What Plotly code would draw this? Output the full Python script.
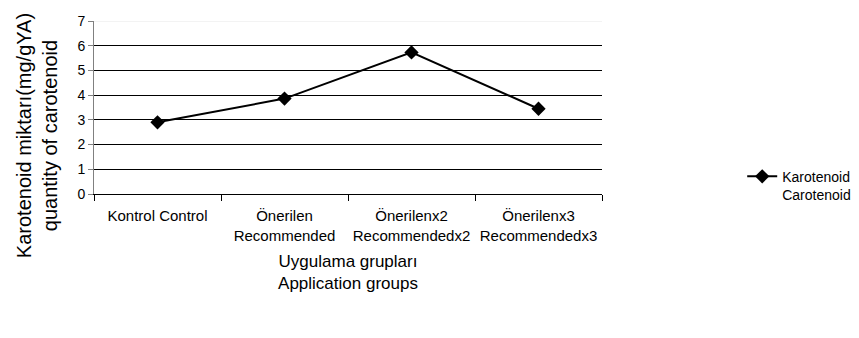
import plotly.graph_objects as go

categories = ["Kontrol Control", "Önerilen<br>Recommended", "Önerilenx2<br>Recommendedx2", "Önerilenx3<br>Recommendedx3"]
values = [2.9, 3.86, 5.73, 3.45]
series_name = "Karotenoid<br>Carotenoid"
y_ticks = [0, 1, 2, 3, 4, 5, 6, 7]

font_family = "Liberation Sans, Arial, sans-serif"

fig = go.Figure()
fig.add_trace(go.Scatter(
    x=categories, y=values, mode="lines+markers", name=series_name,
    line=dict(color="black", width=2),
    marker=dict(symbol="diamond", size=11, color="black"),
))

fig.update_layout(
    width=851, height=330,
    margin=dict(l=86, r=257, t=13, b=144, autoexpand=False),
    paper_bgcolor="white", plot_bgcolor="white",
    font=dict(family=font_family, color="black", size=14),
    showlegend=True,
    legend=dict(x=1.276, xanchor="left", y=0.048, yanchor="middle",
                font=dict(size=14), valign="top", bgcolor="rgba(0,0,0,0)",
                tracegroupgap=0),
    xaxis=dict(
        type="category", range=[-0.5, 3.5],
        showline=True, linecolor="black", linewidth=1,
        ticks="outside", ticklen=6, tickcolor="black", tickson="boundaries",
        showgrid=False, tickfont=dict(size=15), ticklabelstandoff=8,
        title=dict(text="Uygulama grupları<br>Application groups", font=dict(size=17), standoff=12),
    ),
    yaxis=dict(
        range=[0, 7], tickvals=y_ticks,
        showline=True, linecolor="#808080", linewidth=1,
        ticks="outside", ticklen=5, tickcolor="#808080",
        showgrid=True, gridcolor="black", gridwidth=1, zeroline=False,
        tickfont=dict(size=14),
        title=dict(text=""),
    ),
)

fig.add_shape(type="line", xref="paper", yref="y", x0=0, x1=1, y0=7, y1=7,
              line=dict(color="#e8e8e8", width=1), layer="above")

fig.add_annotation(
    text="Karotenoid miktarı(mg/gYA)<br>quantity of carotenoid",
    xref="paper", yref="paper", x=-0.112, y=0.335, xanchor="center", yanchor="middle",
    textangle=-90, showarrow=False, font=dict(size=20), align="center",
)

fig.write_html("out.html")
